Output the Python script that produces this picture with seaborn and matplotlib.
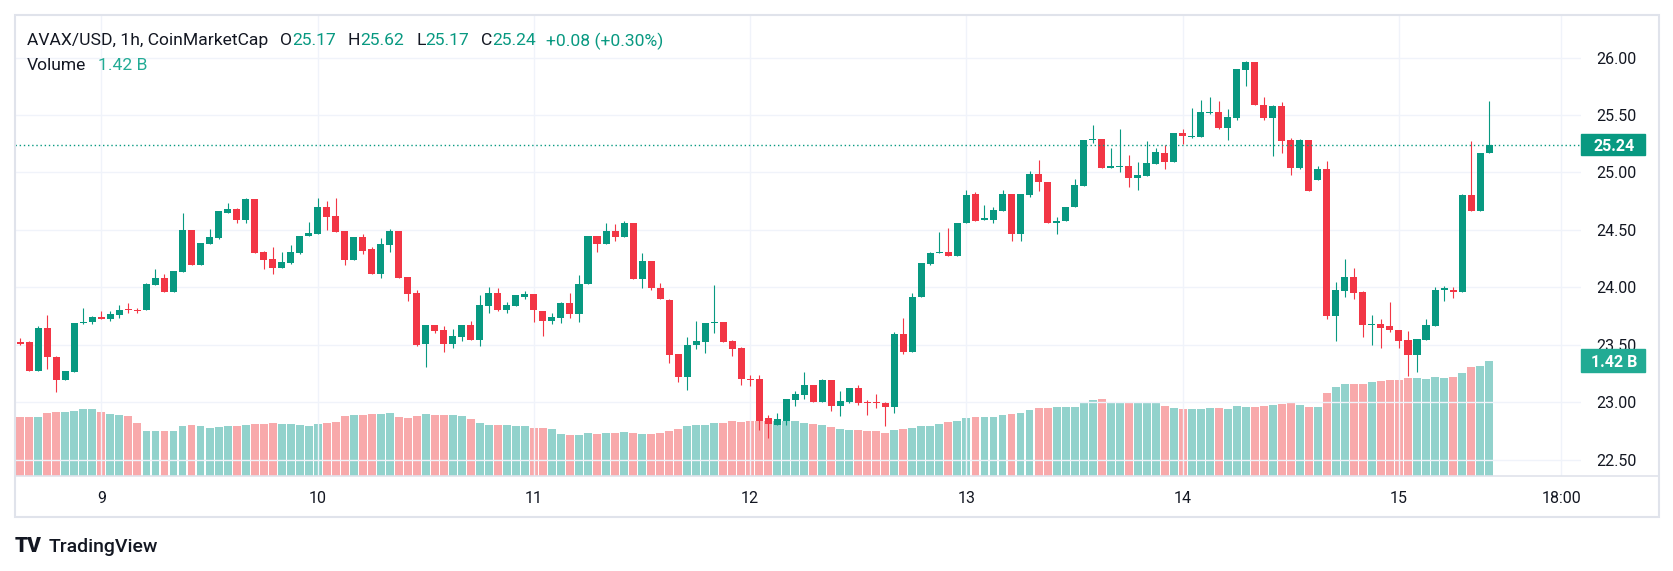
import numpy as np
import pandas as pd
import seaborn as sns
import matplotlib.pyplot as plt
import matplotlib.transforms as mtransforms
from matplotlib.patches import Rectangle
from matplotlib.lines import Line2D

# %% Data (AVAX/USD, 1h candles)

str_start = '2024-09-08 15:00'

lst_open = [23.52, 23.52, 23.27, 23.65, 23.39, 23.19, 23.26, 23.69, 23.70, 23.74,
            23.72, 23.76, 23.81, 23.80, 23.80, 24.02, 24.08, 23.96, 24.13, 24.50,
            24.19, 24.38, 24.43, 24.65, 24.68, 24.59, 24.77, 24.31, 24.25, 24.17,
            24.21, 24.30, 24.45, 24.46, 24.70, 24.62, 24.49, 24.24, 24.44, 24.33,
            24.12, 24.37, 24.49, 24.09, 23.95, 23.51, 23.67, 23.63, 23.51, 23.57,
            23.67, 23.54, 23.84, 23.95, 23.80, 23.84, 23.92, 23.94, 23.79, 23.71,
            23.73, 23.86, 23.77, 24.03, 24.45, 24.38, 24.49, 24.44, 24.56, 24.07,
            24.23, 23.99, 23.89, 23.42, 23.22, 23.50, 23.52, 23.69, 23.70, 23.53,
            23.47, 23.20, 23.20, 22.86, 22.80, 22.84, 23.02, 23.06, 23.15, 23.00,
            23.19, 22.97, 23.00, 23.12, 23.00, 23.00, 22.99, 22.96, 23.59, 23.44,
            23.92, 24.20, 24.30, 24.31, 24.27, 24.56, 24.81, 24.59, 24.59, 24.66,
            24.81, 24.46, 24.80, 24.99, 24.92, 24.56, 24.58, 24.70, 24.88, 25.28,
            25.29, 25.04, 25.05, 25.06, 24.95, 24.97, 25.07, 25.17, 25.09, 25.34,
            25.31, 25.31, 25.52, 25.53, 25.39, 25.47, 25.89, 25.96, 25.59, 25.47,
            25.58, 25.28, 25.04, 25.28, 24.93, 25.03, 23.75, 23.97, 24.09, 23.96,
            23.67, 23.68, 23.66, 23.63, 23.54, 23.41, 23.54, 23.66, 23.98, 23.98,
            23.96, 24.80, 24.66, 25.17]

lst_high = [23.56, 23.53, 23.66, 23.76, 23.40, 23.27, 23.69, 23.82, 23.75, 23.79,
            23.79, 23.85, 23.86, 23.82, 24.04, 24.16, 24.12, 24.14, 24.65, 24.50,
            24.39, 24.51, 24.66, 24.73, 24.69, 24.78, 24.77, 24.32, 24.35, 24.31,
            24.37, 24.45, 24.57, 24.78, 24.75, 24.78, 24.49, 24.44, 24.46, 24.35,
            24.43, 24.51, 24.49, 24.09, 23.98, 23.67, 23.67, 23.66, 23.64, 23.67,
            23.71, 23.93, 24.00, 23.99, 23.87, 23.93, 23.97, 23.94, 23.79, 23.78,
            23.87, 23.95, 24.11, 24.45, 24.45, 24.56, 24.55, 24.58, 24.56, 24.30,
            24.23, 24.04, 23.90, 23.42, 23.57, 23.71, 23.69, 24.02, 23.70, 23.54,
            23.48, 23.24, 23.24, 22.89, 22.91, 23.03, 23.10, 23.26, 23.15, 23.20,
            23.19, 23.10, 23.12, 23.15, 23.02, 23.07, 23.00, 23.61, 23.73, 23.95,
            24.21, 24.31, 24.48, 24.52, 24.56, 24.85, 24.83, 24.72, 24.70, 24.85,
            24.81, 24.81, 25.01, 25.11, 24.92, 24.61, 24.70, 24.94, 25.28, 25.41,
            25.29, 25.21, 25.38, 25.15, 25.09, 25.27, 25.21, 25.24, 25.34, 25.38,
            25.56, 25.63, 25.66, 25.62, 25.55, 25.90, 25.97, 25.96, 25.66, 25.59,
            25.61, 25.30, 25.29, 25.28, 25.06, 25.10, 24.05, 24.25, 24.17, 23.97,
            23.76, 23.72, 23.87, 23.63, 23.62, 23.55, 23.72, 24.00, 24.01, 24.00,
            24.81, 25.27, 25.17, 25.62]

lst_low = [23.50, 23.27, 23.27, 23.29, 23.09, 23.19, 23.26, 23.68, 23.68, 23.72,
           23.71, 23.73, 23.78, 23.78, 23.80, 24.02, 23.96, 23.96, 24.13, 24.19,
           24.19, 24.38, 24.42, 24.65, 24.56, 24.56, 24.30, 24.16, 24.12, 24.17,
           24.20, 24.29, 24.45, 24.46, 24.50, 24.48, 24.19, 24.24, 24.29, 24.12,
           24.08, 24.31, 24.08, 23.88, 23.49, 23.31, 23.60, 23.44, 23.47, 23.53,
           23.54, 23.49, 23.78, 23.79, 23.78, 23.84, 23.90, 23.70, 23.58, 23.68,
           23.69, 23.73, 23.70, 24.03, 24.31, 24.38, 24.40, 24.44, 24.07, 23.99,
           23.98, 23.90, 23.34, 23.18, 23.11, 23.46, 23.43, 23.60, 23.52, 23.40,
           23.15, 23.14, 22.76, 22.69, 22.80, 22.80, 22.97, 23.03, 23.00, 23.00,
           22.92, 22.88, 22.99, 22.98, 22.89, 22.95, 22.79, 22.91, 23.42, 23.44,
           23.92, 24.19, 24.30, 24.27, 24.27, 24.56, 24.58, 24.59, 24.56, 24.66,
           24.40, 24.40, 24.79, 24.84, 24.56, 24.46, 24.58, 24.70, 24.88, 25.26,
           25.04, 25.04, 25.00, 24.87, 24.85, 24.97, 25.07, 25.03, 25.09, 25.25,
           25.30, 25.31, 25.51, 25.38, 25.28, 25.46, 25.75, 25.59, 25.46, 25.14,
           25.17, 24.98, 25.03, 24.84, 24.93, 23.72, 23.53, 23.92, 23.90, 23.57,
           23.50, 23.47, 23.61, 23.47, 23.23, 23.26, 23.54, 23.66, 23.88, 23.91,
           23.96, 24.66, 24.66, 25.17]

lst_close = [23.51, 23.27, 23.65, 23.39, 23.19, 23.27, 23.69, 23.70, 23.74, 23.72,
             23.77, 23.80, 23.80, 23.79, 24.03, 24.08, 23.96, 24.14, 24.50, 24.19,
             24.39, 24.44, 24.66, 24.68, 24.59, 24.77, 24.30, 24.24, 24.17, 24.22,
             24.31, 24.45, 24.47, 24.70, 24.61, 24.48, 24.24, 24.44, 24.32, 24.12,
             24.38, 24.49, 24.08, 23.94, 23.50, 23.67, 23.62, 23.51, 23.58, 23.67,
             23.54, 23.85, 23.95, 23.80, 23.85, 23.93, 23.94, 23.80, 23.71, 23.74,
             23.86, 23.77, 24.03, 24.45, 24.38, 24.49, 24.44, 24.56, 24.07, 24.23,
             23.99, 23.90, 23.41, 23.22, 23.50, 23.53, 23.69, 23.70, 23.52, 23.46,
             23.20, 23.19, 22.84, 22.81, 22.85, 23.03, 23.07, 23.15, 23.00, 23.19,
             22.97, 23.01, 23.12, 22.99, 22.99, 22.99, 22.96, 23.59, 23.44, 23.92,
             24.21, 24.30, 24.31, 24.27, 24.56, 24.80, 24.58, 24.60, 24.67, 24.81,
             24.46, 24.81, 24.99, 24.92, 24.56, 24.58, 24.70, 24.89, 25.28, 25.29,
             25.04, 25.06, 25.06, 24.95, 24.98, 25.08, 25.18, 25.09, 25.34, 25.32,
             25.32, 25.53, 25.53, 25.39, 25.48, 25.90, 25.96, 25.59, 25.47, 25.58,
             25.27, 25.04, 25.28, 24.84, 25.03, 23.75, 23.98, 24.09, 23.95, 23.67,
             23.68, 23.65, 23.63, 23.53, 23.41, 23.55, 23.67, 23.98, 23.99, 23.96,
             24.80, 24.66, 25.17, 25.24]

# volume in billions USD
lst_volume = [0.73, 0.73, 0.73, 0.78, 0.79, 0.79, 0.80, 0.83, 0.83, 0.79,
              0.77, 0.75, 0.74, 0.65, 0.56, 0.56, 0.56, 0.56, 0.62, 0.63,
              0.62, 0.59, 0.61, 0.62, 0.62, 0.63, 0.64, 0.64, 0.65, 0.64,
              0.64, 0.63, 0.62, 0.64, 0.65, 0.67, 0.74, 0.75, 0.75, 0.77,
              0.77, 0.78, 0.73, 0.72, 0.74, 0.77, 0.75, 0.75, 0.75, 0.74,
              0.70, 0.65, 0.63, 0.63, 0.63, 0.62, 0.62, 0.59,
              0.59, 0.58, 0.52, 0.51, 0.51, 0.53, 0.52, 0.53, 0.53, 0.54,
              0.53, 0.52, 0.52, 0.53, 0.56, 0.58, 0.62, 0.63, 0.63, 0.65,
              0.65, 0.68, 0.67, 0.68, 0.68, 0.68, 0.68, 0.68, 0.68,
              0.65, 0.64, 0.63, 0.61, 0.58, 0.57, 0.57, 0.56, 0.56, 0.53,
              0.57, 0.58, 0.59, 0.62, 0.62, 0.64, 0.67, 0.68, 0.72, 0.73,
              0.73, 0.73, 0.75, 0.77, 0.78, 0.81, 0.84, 0.84, 0.85,
              0.85, 0.85, 0.90, 0.94, 0.95, 0.90, 0.90, 0.91, 0.91, 0.91,
              0.90, 0.86, 0.84, 0.83, 0.83, 0.83, 0.84, 0.84, 0.83, 0.86,
              0.85, 0.85, 0.86, 0.88, 0.89, 0.90, 0.88, 0.85, 0.85,
              1.02, 1.10, 1.14, 1.14, 1.14, 1.16, 1.17, 1.19, 1.19, 1.21,
              1.21, 1.20, 1.22, 1.21, 1.22, 1.27, 1.35, 1.36, 1.42]

str_change = '+0.08 (+0.30%)'
str_vol_last = '1.42 B'

# %% Style

W, H = 1674, 571
clr_up = '#089981'
clr_dn = '#f23645'
clr_up_vol = '#92d2cc'
clr_dn_vol = '#f8a9ab'
clr_txt = '#131722'
clr_grid = '#f0f3fa'
clr_frame = '#e0e3eb'
var_fs = 11.5
var_fs_head = 12.6

sns.set_theme(style='white')
plt.rcParams['font.family'] = ['Roboto', 'DejaVu Sans']

# %% Build data frame

ary_time = pd.date_range(str_start, periods=len(lst_open), freq='h')
df = pd.DataFrame({'time': ary_time, 'open': lst_open, 'high': lst_high,
                   'low': lst_low, 'close': lst_close, 'volume': lst_volume})
df['pos'] = ((df['time'] - df['time'].iloc[0]) / pd.Timedelta('1h')).astype(float)
df['dir'] = np.where(df['close'] >= df['open'], 'up', 'down')
lst_clr = [clr_up if d == 'up' else clr_dn for d in df['dir']]

# tick positions: midnight of each day + 18:00 of the last day
ary_days = pd.date_range(ary_time[0].normalize() + pd.Timedelta('1D'),
                         ary_time[-1].normalize(), freq='D')
lst_tick_time = list(ary_days) + [ary_time[-1].normalize() + pd.Timedelta('18h')]
lst_tick_pos = [(t - ary_time[0]) / pd.Timedelta('1h') for t in lst_tick_time]
lst_tick_lbl = [str(t.day) for t in ary_days] + ['18:00']

# %% Plot

fig = plt.figure(figsize=(W / 100, H / 100), dpi=100)
fig.patch.set_facecolor('white')
ax = fig.add_axes([15 / W, 1 - 476 / H, (1581 - 15) / W, (476 - 15) / H])
ax_vol = ax.twinx()
ax.set_zorder(ax_vol.get_zorder() + 1)
ax.patch.set_visible(False)

# volume bars
sns.barplot(data=df, x='pos', y='volume', hue='dir',
            palette={'up': clr_up_vol, 'down': clr_dn_vol},
            native_scale=True, dodge=False, width=0.88, saturation=1,
            errorbar=None, legend=False, ax=ax_vol, linewidth=0)
ax_vol.set_ylim(0, 5.69)
ax_vol.set_yticks([])
ax_vol.set_xlabel('')
ax_vol.set_ylabel('')

# candles
ax.vlines(df['pos'], df['low'], df['high'], colors=lst_clr, lw=0.8)
ary_body = np.maximum(np.abs(df['close'] - df['open']), 0.009)
ax.bar(df['pos'], ary_body, bottom=np.minimum(df['open'], df['close']),
       width=0.78, color=lst_clr, linewidth=0)

# last price line
var_last = lst_close[-1]
ax.axhline(var_last, color=clr_up, lw=1, ls=(0, (1, 2)))

ax.set_xlim(-0.59, 173.2)
ax.set_ylim(22.358, 26.37)
ax.set_yticks(np.arange(22.5, 26.01, 0.5))
ax.yaxis.tick_right()
ax.yaxis.set_major_formatter(plt.FuncFormatter(lambda v, p: f'{v:.2f}'))
ax.set_xticks(lst_tick_pos)
ax.set_xticklabels(lst_tick_lbl)
ax.tick_params(axis='y', length=0, pad=11, labelsize=var_fs, labelcolor=clr_txt)
ax.tick_params(axis='x', length=0, pad=11, labelsize=var_fs, labelcolor=clr_txt)
ax.grid(True, color=clr_grid, lw=1)
for obj_ax in (ax, ax_vol):
    for sp in obj_ax.spines.values():
        sp.set_visible(False)

# frame around chart
fig.add_artist(Rectangle((15 / W, 1 - 517 / H), 1644 / W, 502 / H,
                         transform=fig.transFigure, fill=False,
                         ec=clr_frame, lw=1.5, zorder=8))
fig.add_artist(Line2D([15 / W, 1659 / W], [1 - 476 / H, 1 - 476 / H],
                      transform=fig.transFigure, color=clr_frame, lw=1.2,
                      zorder=8))

# price axis labels for last price and last volume
trf_price = mtransforms.blended_transform_factory(fig.transFigure, ax.transData)
fig.add_artist(Rectangle((1581 / W, var_last - 0.092), 64 / W, 0.184,
                         transform=trf_price, color=clr_up, zorder=10))
fig.text(1614 / W, var_last, f'{var_last:.2f}', transform=trf_price,
         color='white', fontsize=var_fs, ha='center', va='center_baseline',
         fontweight='bold', zorder=11)
var_vol_last = lst_volume[-1]
trf_vol = mtransforms.blended_transform_factory(fig.transFigure, ax_vol.transData)
fig.add_artist(Rectangle((1581 / W, var_vol_last - 0.142), 64 / W, 0.284,
                         transform=trf_vol, color='#22ab94', zorder=10))
fig.text(1614 / W, var_vol_last, str_vol_last, transform=trf_vol,
         color='white', fontsize=var_fs, ha='center', va='center_baseline',
         fontweight='bold', zorder=11)

# legend header
renderer = fig.canvas.get_renderer()


def draw_row(pieces, x_px, y_px):
    """Write text pieces one after another on one line."""
    x = x_px
    for txt, clr, gap in pieces:
        t = fig.text(x / W, 1 - y_px / H, txt, color=clr, fontsize=var_fs_head,
                     ha='left', va='center_baseline')
        x = t.get_window_extent(renderer).x1 + gap


draw_row([('AVAX/USD, 1h, CoinMarketCap', clr_txt, 12),
          ('O', clr_txt, 0), (f'{lst_open[-1]:.2f}', clr_up, 12),
          ('H', clr_txt, 0), (f'{lst_high[-1]:.2f}', clr_up, 12),
          ('L', clr_txt, 0), (f'{lst_low[-1]:.2f}', clr_up, 12),
          ('C', clr_txt, 0), (f'{lst_close[-1]:.2f}', clr_up, 10),
          (str_change, clr_up, 0)], 27, 39)
draw_row([('Volume', clr_txt, 12), (str_vol_last, '#22ab94', 0)], 27, 64)

# TradingView logo
fig.text(15 / W, 1 - 545 / H, 'TV', color=clr_txt, fontsize=15,
         fontweight='heavy', ha='left', va='center_baseline')
fig.text(49 / W, 1 - 545 / H, 'TradingView', color=clr_txt, fontsize=14,
         fontweight='medium', ha='left', va='center_baseline')

fig.savefig('out.png', dpi=100, facecolor='white')
